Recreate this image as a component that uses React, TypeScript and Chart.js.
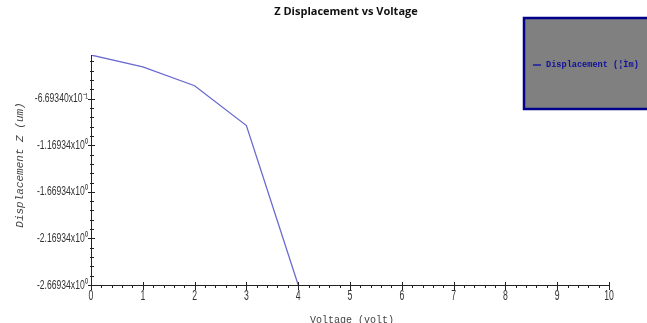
import React, { useEffect, useRef } from "react";
import { Chart, registerables } from "chart.js";

Chart.register(...registerables);

const voltage = [0, 1, 2, 3, 4];
const displacement = [-0.2, -0.327, -0.53, -0.958, -2.66934];
const yMajorTicks = [-0.66934, -1.16934, -1.66934, -2.16934, -2.66934];
const yTickLabels = ["-6.69340x10⁻¹", "-1.16934x10⁰", "-1.66934x10⁰", "-2.16934x10⁰", "-2.66934x10⁰"];
const xMajorTicks = [0, 1, 2, 3, 4, 5, 6, 7, 8, 9, 10];
const chartTitle = "Z Displacement vs Voltage";
const xTitle = "Voltage (volt)";
const yTitle = "Displacement Z (um)";
const legendLabel = "Displacement (¦Ìm)";

const axesPlugin = {
  id: "customAxes",
  afterDraw(chart: any) {
    const ctx = chart.ctx;
    const xs = chart.scales.x;
    const ys = chart.scales.y;
    const area = chart.chartArea;
    ctx.save();
    ctx.strokeStyle = "#222";
    ctx.lineWidth = 1;
    // axis lines
    ctx.beginPath();
    ctx.moveTo(area.left + 0.5, area.top);
    ctx.lineTo(area.left + 0.5, area.bottom + 0.5);
    ctx.lineTo(area.right, area.bottom + 0.5);
    ctx.stroke();
    // x ticks
    ctx.beginPath();
    for (let v = 0; v <= 10.001; v += 0.2) {
      const px = Math.round(xs.getPixelForValue(v)) + 0.5;
      const major = Math.abs(v - Math.round(v)) < 0.01;
      ctx.moveTo(px, area.bottom - (major ? 3 : 0));
      ctx.lineTo(px, area.bottom + (major ? 5 : 3));
    }
    // y ticks
    const yMax = ys.max;
    for (let v = -2.66934; v <= yMax + 0.0001; v += 0.1) {
      const py = Math.round(ys.getPixelForValue(v)) + 0.5;
      const major = yMajorTicks.some((m) => Math.abs(m - v) < 0.01);
      ctx.moveTo(area.left - (major ? 3 : 1), py);
      ctx.lineTo(area.left + (major ? 4 : 3), py);
    }
    ctx.stroke();
    // x labels (condensed)
    ctx.fillStyle = "#333";
    ctx.font = "14px 'Liberation Sans', Arial, sans-serif";
    ctx.textAlign = "center";
    ctx.textBaseline = "top";
    const sx = 0.62;
    xMajorTicks.forEach((v) => {
      ctx.save();
      ctx.translate(xs.getPixelForValue(v), area.bottom + 4);
      ctx.scale(sx, 1);
      ctx.fillText(String(v), 0, 0);
      ctx.restore();
    });
    // y labels (condensed)
    ctx.font = "13px 'Liberation Sans', Arial, sans-serif";
    ctx.textAlign = "right";
    ctx.textBaseline = "middle";
    yMajorTicks.forEach((v, i) => {
      ctx.save();
      ctx.translate(area.left - 3, ys.getPixelForValue(v));
      ctx.scale(0.66, 1);
      ctx.fillText(yTickLabels[i], 0, 0);
      ctx.restore();
    });
    // title
    ctx.fillStyle = "#111";
    ctx.font = "bold 11px 'Open Sans', sans-serif";
    ctx.textAlign = "center";
    ctx.textBaseline = "middle";
    ctx.fillText(chartTitle, 346, 12);
    // x title
    ctx.fillStyle = "#444";
    ctx.font = "10px 'Liberation Mono', monospace";
    ctx.textAlign = "center";
    ctx.textBaseline = "top";
    ctx.fillText(xTitle, 352, 315);
    // y title
    ctx.save();
    ctx.translate(20, 165);
    ctx.rotate(-Math.PI / 2);
    ctx.font = "italic 11px 'Liberation Mono', monospace";
    ctx.textAlign = "center";
    ctx.textBaseline = "middle";
    ctx.fillText(yTitle, 0, 0);
    ctx.restore();
    // legend box
    ctx.fillStyle = "#808080";
    ctx.fillRect(523, 17, 130, 93);
    ctx.strokeStyle = "#00008b";
    ctx.lineWidth = 2.5;
    ctx.strokeRect(524, 18, 130, 91);
    ctx.strokeStyle = "#1a1aa0";
    ctx.lineWidth = 1.5;
    ctx.beginPath();
    ctx.moveTo(533, 65);
    ctx.lineTo(541, 65);
    ctx.stroke();
    ctx.fillStyle = "#10109a";
    ctx.font = "bold 8.6px 'Liberation Mono', monospace";
    ctx.textAlign = "left";
    ctx.textBaseline = "middle";
    ctx.fillText(legendLabel, 546, 65);
    ctx.restore();
  },
};

export default function App() {
  const ref = useRef<HTMLCanvasElement | null>(null);
  useEffect(() => {
    if (!ref.current) return;
    const chart = new Chart(ref.current, {
      type: "scatter",
      data: {
        datasets: [
          {
            label: legendLabel,
            data: voltage.map((v, i) => ({ x: v, y: displacement[i] })),
            showLine: true,
            borderColor: "#6a6ad0",
            borderWidth: 1.3,
            pointRadius: 0,
            fill: false,
          },
        ],
      },
      options: {
        animation: false,
        responsive: false,
        maintainAspectRatio: false,
        layout: { padding: { left: 0, top: 55, right: 38, bottom: 0 } },
        plugins: { legend: { display: false }, tooltip: { enabled: false }, title: { display: false } },
        scales: {
          x: {
            type: "linear",
            min: 0,
            max: 10,
            grid: { display: false },
            border: { display: false },
            ticks: { display: false },
            afterFit: (s: any) => {
              s.height = 38;
            },
          },
          y: {
            type: "linear",
            min: -2.66934,
            max: -0.2,
            grid: { display: false },
            border: { display: false },
            ticks: { display: false },
            afterFit: (s: any) => {
              s.width = 91;
            },
          },
        },
      },
      plugins: [axesPlugin],
    });
    return () => chart.destroy();
  }, []);
  return (
    <div style={{ position: "fixed", left: 0, top: 0, width: 647, height: 323, background: "#fff" }}>
      <canvas ref={ref} width={647} height={323} style={{ display: "block" }} />
    </div>
  );
}
